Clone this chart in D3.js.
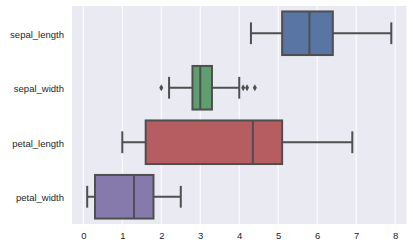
<!DOCTYPE html>
<html>
<head>
<meta charset="utf-8">
<script src="https://cdn.jsdelivr.net/npm/d3@7"></script>
<style>
body { margin: 0; background: #fff; }
text { font-family: "Liberation Sans", Arial, sans-serif; fill: #262626; }
</style>
</head>
<body>
<script>
var categories = ['sepal_length', 'sepal_width', 'petal_length', 'petal_width'];
var mins    = [4.3, 2.2, 1.0, 0.1];
var q1s     = [5.1, 2.8, 1.6, 0.3];
var medians = [5.8, 3.0, 4.35, 1.3];
var q3s     = [6.4, 3.3, 5.1, 1.8];
var maxs    = [7.9, 4.0, 6.9, 2.5];
var fliers  = [[], [2.0, 4.1, 4.2, 4.4], [], []];
var colors  = ['#5875a4', '#5f9e6e', '#b55d60', '#857aab'];
var xTicks  = [0, 1, 2, 3, 4, 5, 6, 7, 8];

var W = 413, H = 247;
// note: "top" is taken by window.top, so use plot* names
var plotL = 72, plotR = 406.5, plotT = 6, plotB = 224;
var lineColor = '#4f4f4f';

var svg = d3.select('body').append('svg')
    .attr('width', W)
    .attr('height', H);

var x = d3.scaleLinear().domain([-0.29, 8.29]).range([plotL, plotR]);
var y = d3.scaleBand().domain(categories).range([plotT, plotB]).padding(0);

svg.append('rect')
    .attr('x', plotL).attr('y', plotT)
    .attr('width', plotR - plotL).attr('height', plotB - plotT)
    .style('fill', '#eaeaf2');

// grid
svg.selectAll('.grid')
    .data(xTicks)
    .enter().append('line')
    .attr('class', 'grid')
    .attr('x1', function(d) { return x(d); })
    .attr('x2', function(d) { return x(d); })
    .attr('y1', plotT).attr('y2', plotB)
    .style('stroke', '#fff')
    .style('stroke-width', 1);

var xAxis = d3.axisBottom(x).tickValues(xTicks).tickSize(0).tickPadding(8);
var gx = svg.append('g').attr('transform', 'translate(0,' + plotB + ')').call(xAxis);
gx.select('.domain').remove();
gx.selectAll('text').style('font-size', '9.5px').style('font-family', '"Liberation Sans", Arial, sans-serif').style('fill', '#262626');

var yAxis = d3.axisLeft(y).tickSize(0).tickPadding(8);
var gy = svg.append('g').attr('transform', 'translate(' + plotL + ',1.5)').call(yAxis);
gy.select('.domain').remove();
gy.selectAll('text').style('font-size', '9.5px').style('font-family', '"Liberation Sans", Arial, sans-serif').style('fill', '#262626');

var rows = categories.map(function(c, i) {
    return { cat: c, min: mins[i], q1: q1s[i], med: medians[i], q3: q3s[i], max: maxs[i], fliers: fliers[i], color: colors[i] };
});

var bw = y.bandwidth() * 0.8;

var g = svg.selectAll('.box')
    .data(rows)
    .enter().append('g')
    .attr('class', 'box')
    .attr('transform', function(d) { return 'translate(0,' + (y(d.cat) + y.bandwidth() / 2) + ')'; });

// whiskers
g.append('line')
    .attr('x1', function(d) { return x(d.min); })
    .attr('x2', function(d) { return x(d.q1); })
    .attr('y1', 0).attr('y2', 0);
g.append('line')
    .attr('x1', function(d) { return x(d.q3); })
    .attr('x2', function(d) { return x(d.max); })
    .attr('y1', 0).attr('y2', 0);
// caps
g.append('line')
    .attr('x1', function(d) { return x(d.min); })
    .attr('x2', function(d) { return x(d.min); })
    .attr('y1', -bw / 4).attr('y2', bw / 4);
g.append('line')
    .attr('x1', function(d) { return x(d.max); })
    .attr('x2', function(d) { return x(d.max); })
    .attr('y1', -bw / 4).attr('y2', bw / 4);

g.append('rect')
    .attr('x', function(d) { return x(d.q1); })
    .attr('y', -bw / 2)
    .attr('width', function(d) { return x(d.q3) - x(d.q1); })
    .attr('height', bw)
    .style('fill', function(d) { return d.color; });

g.append('line')
    .attr('x1', function(d) { return x(d.med); })
    .attr('x2', function(d) { return x(d.med); })
    .attr('y1', -bw / 2).attr('y2', bw / 2);

g.selectAll('line, rect')
    .style('stroke', lineColor)
    .style('stroke-width', 2);

g.selectAll('.flier')
    .data(function(d) { return d.fliers; })
    .enter().append('path')
    .attr('class', 'flier')
    .attr('d', function(d) {
        var cx = x(d);
        return 'M' + cx + ',-3.5L' + (cx + 2) + ',0L' + cx + ',3.5L' + (cx - 2) + ',0Z';
    })
    .style('fill', lineColor);
</script>
</body>
</html>
